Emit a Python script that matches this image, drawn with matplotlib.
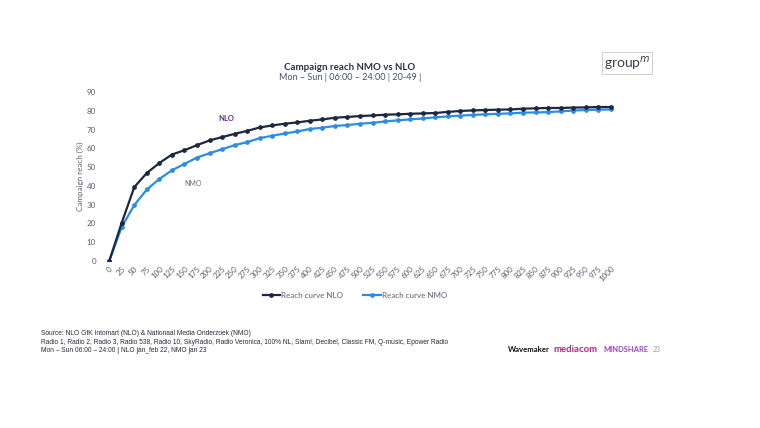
import matplotlib.pyplot as plt

inserts = list(range(0, 1001, 25))
reach_nlo = [0, 20.5, 39.4, 46.9, 52.2, 56.7, 59.0, 61.7, 64.2, 66.0, 67.7, 69.3, 71.1,
             72.2, 73.1, 73.8, 74.7, 75.4, 76.3, 76.7, 77.2, 77.5, 77.9, 78.1, 78.4, 78.6,
             78.8, 79.4, 79.9, 80.2, 80.4, 80.6, 80.7, 81.1, 81.3, 81.5, 81.5, 81.7, 81.8,
             82.0, 82.0]
reach_nmo = [0, 18.2, 29.8, 38.1, 43.7, 48.3, 51.7, 55.1, 57.4, 59.5, 61.7, 63.3, 65.4,
             66.7, 67.9, 69.0, 70.3, 71.0, 71.9, 72.4, 73.1, 73.6, 74.3, 74.9, 75.4, 75.9,
             76.5, 77.0, 77.4, 77.8, 78.1, 78.4, 78.6, 79.0, 79.1, 79.3, 79.7, 80.1, 80.4,
             80.6, 80.7]

navy = '#1c2740'
blue = '#2b8de4'
grey = '#5a6070'

plt.rcParams['font.family'] = ['Lato', 'DejaVu Sans']

fig = plt.figure(figsize=(7.6, 4.28), dpi=100)
ax = fig.add_axes([103 / 760, 1 - 261 / 428, 514 / 760, 169 / 428])

pos = list(range(len(inserts)))
ax.plot(pos, reach_nlo, color=navy, lw=1.6, marker='o', ms=2.4, label='Reach curve NLO', zorder=3)
ax.plot(pos, reach_nmo, color=blue, lw=1.6, marker='o', ms=2.4, label='Reach curve NMO', zorder=2)

ax.set_xlim(-0.5, len(inserts) - 0.5)
ax.set_ylim(0, 90)
ax.set_yticks(range(0, 91, 10))
ax.set_xticks(pos)
ax.set_xticklabels([str(v) for v in inserts], rotation=45, ha='right',
                   rotation_mode='anchor', fontsize=5.8, color=grey)
ax.tick_params(axis='y', labelsize=5.8, labelcolor=grey, length=0, pad=5)
ax.tick_params(axis='x', length=0, pad=3)
for s in ax.spines.values():
    s.set_visible(False)
ax.axhline(0, color='#eeeeee', lw=0.8, zorder=1)
ax.set_ylabel('Campaign reach (%)', fontsize=5.8, color=grey)
ax.yaxis.set_label_coords(-0.036, 0.5)

ax.legend(loc='upper center', bbox_to_anchor=(0.49, -0.14), ncol=2, frameon=False,
          fontsize=5.8, labelcolor=grey, handlelength=2.2, columnspacing=2.5,
          markerscale=1.0, handletextpad=0.1)

fig.text(350 / 760, 1 - 67 / 428, 'Campaign reach NMO vs NLO', ha='center', va='center',
         fontsize=7, fontweight='bold', color='#2a3145')
fig.text(350 / 760, 1 - 78 / 428, 'Mon – Sun | 06:00 – 24:00 | 20-49 |', ha='center',
         va='center', fontsize=6.5, color='#4a5060')

# logos as text
fig.text(627 / 760, 1 - 63 / 428, 'group$^m$', ha='center', va='center', fontsize=10,
         color='#3a4050', bbox=dict(boxstyle='square,pad=0.15', fc='white', ec='#c8c8c8', lw=0.6))
ax.text(8.7, 76, 'NLO', fontsize=5.5, fontweight='bold', color='#5b2a86', ha='left', va='center')
ax.text(6.0, 41.5, 'NMO', fontsize=5, color='#6a6f7a', ha='left', va='center')

foot = ('Source: NLO GfK Intomart (NLO) & Nationaal Media Onderzoek (NMO)\n'
        'Radio 1, Radio 2, Radio 3, Radio 538, Radio 10, SkyRadio, Radio Veronica, 100% NL, Slam!, '
        'Decibel, Classic FM, Q-music, Epower Radio\n'
        'Mon – Sun 06:00 – 24:00 | NLO jan_feb 22, NMO jan 23')
fig.text(41 / 760, 1 - 330 / 428, foot, ha='left', va='top', fontsize=4.8,
         color='#2a2a3a', family=['Liberation Sans', 'DejaVu Sans'], linespacing=1.35)

fig.text(508 / 760, 1 - 350 / 428, 'Wavemaker', ha='left', va='center', fontsize=5.6,
         fontweight='bold', color='#111111')
fig.text(553 / 760, 1 - 350 / 428, 'mediacom', ha='left', va='center', fontsize=6.8,
         fontweight='bold', color='#e0157a')
fig.text(603 / 760, 1 - 350 / 428, 'MINDSHARE', ha='left', va='center', fontsize=5.4,
         fontweight='bold', color='#a040d0')
fig.text(653 / 760, 1 - 350 / 428, '23', ha='left', va='center', fontsize=5, color='#9a9aa8')

fig.savefig('out.png', dpi=100)
